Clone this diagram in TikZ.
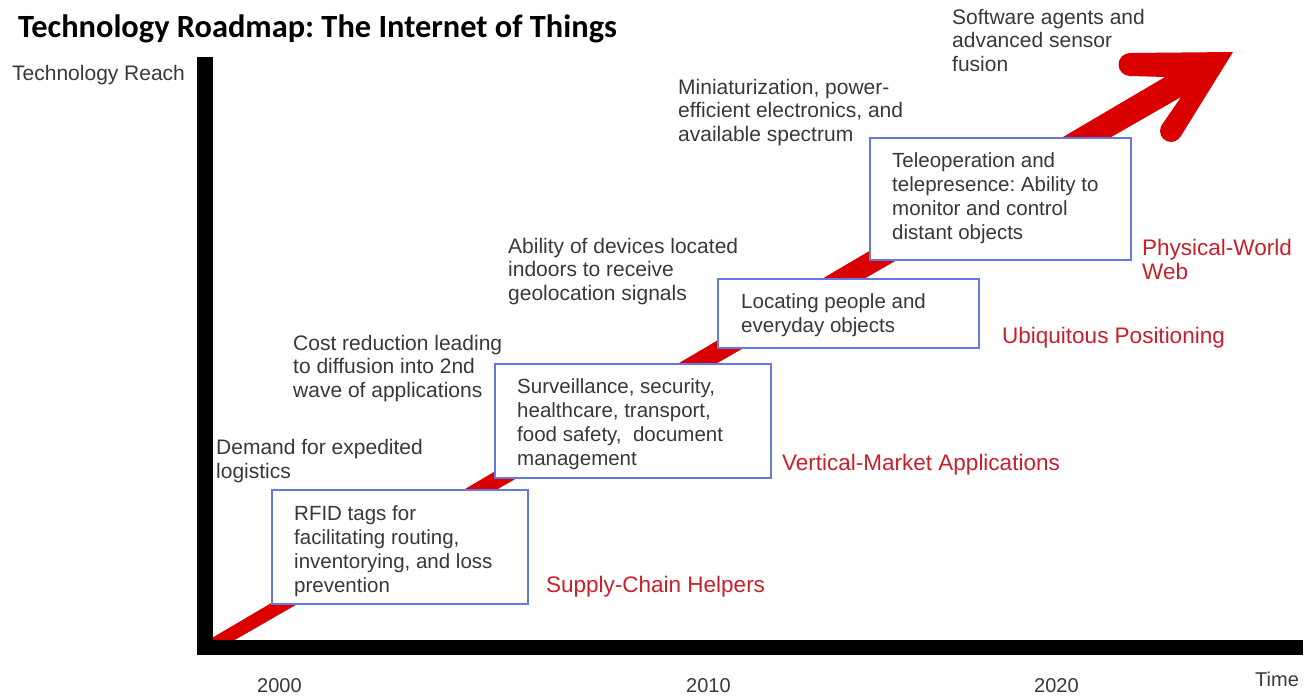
\documentclass[tikz,border=0pt]{standalone}
\usepackage{fontspec}
\setmainfont{Liberation Sans}
\newfontfamily\titlefont{Carlito}
\definecolor{roadred}{RGB}{218, 0, 0}
\definecolor{wavered}{RGB}{200, 32, 42}
\definecolor{boxblue}{RGB}{100, 122, 222}
\definecolor{drivergray}{RGB}{56, 56, 56}
\usetikzlibrary{positioning}
\frenchspacing

\tikzset{
  driver/.style={anchor=base west, inner sep=0pt, align=left, text=drivergray, font=\fontsize{21}{23.5}\selectfont},
  wave/.style={anchor=base west, inner sep=0pt, align=left, text=wavered, font=\fontsize{22.5}{24}\selectfont},
  stagebox/.style={draw=boxblue, line width=1.8pt, fill=white, anchor=north west, inner sep=0pt},
  stagetext/.style={anchor=base west, inner sep=0pt, align=left, text=drivergray, font=\fontsize{20.5}{23.8}\selectfont},
  yearlabel/.style={anchor=base west, inner sep=0pt, text=drivergray, font=\fontsize{20}{23}\selectfont}
}

\begin{document}
\begin{tikzpicture}[x=1pt, y=-1pt]
  \useasboundingbox (0,0) rectangle (1306,696);

  % Road arrow
  \fill[roadred] (200,645) -- (1165,77) -- (1130,76) -- (1130,53) -- (1233,52)
    -- (1180.4,136.8) -- (1161.7,125.2) -- (1181,97) -- (226,645) -- cycle;
  \fill[roadred] (1130,64.5) circle (11.5);
  \fill[roadred] (1171,131) circle (11);

  % Axes
  \fill[black] (197,57) rectangle (213,655);
  \fill[black] (197,640) rectangle (1303,655);

  % Title
  \node[anchor=base west, inner sep=0pt, font=\titlefont\bfseries\fontsize{32.4}{36}\selectfont] (title) at (18,37) {Technology Roadmap: The Internet of Things};
  \node[driver] (reach) at (12,80) {Technology Reach};

  % Stages
  \node[stagebox, minimum width=256pt, minimum height=114pt] (rfid) at (271,489) {};
  \node[stagetext] (rfidtext) at ([shift={(23,103)}]rfid.north west) {RFID tags for\\facilitating routing,\\inventorying, and loss\\prevention};
  \node[stagebox, minimum width=276pt, minimum height=114pt] (surv) at (494,363) {};
  \node[stagetext] (survtext) at ([shift={(23,102)}]surv.north west) {Surveillance, security,\\healthcare, transport,\\food safety,~ document\\management};
  \node[stagebox, minimum width=261pt, minimum height=69pt] (locate) at (717,278) {};
  \node[stagetext] (locatetext) at ([shift={(24,54)}]locate.north west) {Locating people and\\everyday objects};
  \node[stagebox, minimum width=261pt, minimum height=122pt] (tele) at (869,137) {};
  \node[stagetext] (teletext) at ([shift={(23,102)}]tele.north west) {Teleoperation and\\telepresence: Ability to\\monitor and control\\distant objects};

  % Waves
  \node[wave] (supply) at (546,592) {Supply-Chain Helpers};
  \node[wave] (vertical) at (782,470) {Vertical-Market Applications};
  \node[wave] (ubiq) at (1002,343) {Ubiquitous Positioning};
  \node[wave] (physical) at (1142,279) {Physical-World\\Web};

  % Drivers (anchored at the last line)
  \node[driver] (demand) at (216,478) {Demand for expedited\\logistics};
  \node[driver] (cost) at (293,397) {Cost reduction leading\\to diffusion into 2nd\\wave of applications};
  \node[driver] (indoor) at (508,300) {Ability of devices located\\indoors to receive\\geolocation signals};
  \node[driver] (mini) at (678,141) {Miniaturization, power-\\efficient electronics, and\\available spectrum};
  \node[driver] (agents) at (952,71) {Software agents and\\advanced sensor\\fusion};

  % Time axis
  \node[yearlabel] (y2000) at (257,692) {2000};
  \node[yearlabel] (y2010) at (686,692) {2010};
  \node[yearlabel] (y2020) at (1034,692) {2020};
  \node[yearlabel] (time) at (1255,686) {Time};
\end{tikzpicture}
\end{document}
